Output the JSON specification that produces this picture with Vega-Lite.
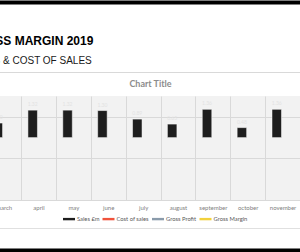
{
  "$schema": "https://vega.github.io/schema/vega-lite/v6.json",
  "width": 300,
  "height": 104,
  "autosize": {"type": "none"},
  "padding": {"left": 0, "top": 96, "right": 0, "bottom": 52},
  "background": "#ffffff",
  "title": {
    "text": "GROSS MARGIN 2019",
    "subtitle": "SALES & COST OF SALES",
    "anchor": "start",
    "frame": "group",
    "dx": -32,
    "offset": -65,
    "font": "Liberation Sans",
    "fontSize": 12,
    "fontWeight": "bold",
    "color": "#000000",
    "subtitleFont": "Liberation Sans",
    "subtitleFontSize": 10,
    "subtitleColor": "#1a1a1a",
    "subtitlePadding": 8
  },
  "config": {
    "view": {"fill": "#f2f2f2", "stroke": null},
    "font": "Lato"
  },
  "data": {
    "values": [
      {"month": "march", "series": "Sales £m", "value": 0.70},
      {"month": "april", "series": "Sales £m", "value": 1.32},
      {"month": "may", "series": "Sales £m", "value": 1.32},
      {"month": "june", "series": "Sales £m", "value": 1.30},
      {"month": "july", "series": "Sales £m", "value": 0.89},
      {"month": "august", "series": "Sales £m", "value": 0.65},
      {"month": "september", "series": "Sales £m", "value": 1.36},
      {"month": "october", "series": "Sales £m", "value": 0.48},
      {"month": "november", "series": "Sales £m", "value": 1.36}
    ]
  },
  "resolve": {"axis": {"x": "independent"}},
  "layer": [
    {
      "mark": {"type": "bar", "width": 9.5, "xOffset": -5.8, "stroke": "#ffffff", "strokeWidth": 0.5, "clip": true},
      "encoding": {
        "x": {
          "field": "month", "type": "nominal", "sort": null,
          "scale": {"domain": ["march","april","may","june","july","august","september","october","november"], "range": [-13.83, 300], "paddingInner": 0, "paddingOuter": 0},
          "axis": {"orient": "bottom", "title": null, "grid": true, "tickBand": "extent", "gridColor": "#d9d9d9", "gridWidth": 1, "ticks": false, "tickSize": 0, "domain": false, "labelFontSize": 6, "labelColor": "#808080", "labelPadding": 4, "labelAngle": 0, "labelOverlap": false, "labelBound": false, "labelFlush": false}
        },
        "y": {
          "field": "value", "type": "quantitative",
          "scale": {"domain": [-3, 2], "nice": false},
          "axis": {"values": [-3,-2,-1,0,1,2], "grid": true, "gridColor": "#d9d9d9", "labels": false, "ticks": false, "domain": false, "title": null}
        },
        "color": {
          "field": "series", "type": "nominal",
          "scale": {"domain": ["Sales £m", "Cost of sales", "Gross Profit", "Gross Margin"], "range": ["#1e1e1e", "#f0533c", "#8a9bab", "#f2d13d"]},
          "legend": {"orient": "none", "legendX": 63, "legendY": 117, "direction": "horizontal", "title": null, "symbolType": "M-1,-0.2H1V0.2H-1Z", "symbolSize": 144, "symbolStrokeWidth": 0, "symbolOpacity": 1, "labelFontSize": 5.8, "labelColor": "#595959", "labelFont": "Lato", "columnPadding": 2.5, "labelOffset": 2, "padding": 0}
        }
      }
    },
    {
      "mark": {"type": "text", "xOffset": -5.8, "dy": -3, "baseline": "bottom", "fontSize": 5, "color": "#e2e2e2", "clip": true},
      "encoding": {
        "x": {"field": "month", "type": "nominal", "sort": null,
          "axis": {"orient": "top", "title": "Chart Title", "titleFontSize": 9, "titleColor": "#8c8c8c", "titleFontWeight": "bold", "titleFont": "Lato", "titlePadding": 8, "titleX": 150, "titleAlign": "center", "labels": false, "ticks": false, "domain": false, "grid": false}},
        "y": {"field": "value", "type": "quantitative"},
        "text": {"field": "value", "type": "quantitative", "format": ".2f"}
      }
    },
    {
      "mark": {"type": "point", "opacity": 0},
      "encoding": {
        "x": {"field": "month", "type": "nominal", "sort": null,
          "axis": {"orient": "top", "offset": 24, "title": null, "labels": false, "ticks": false, "grid": false, "domain": true, "domainColor": "#d9d9d9", "domainWidth": 1}}
      }
    },
    {
      "mark": {"type": "point", "opacity": 0},
      "encoding": {
        "x": {"field": "month", "type": "nominal", "sort": null,
          "axis": {"orient": "bottom", "offset": 28, "title": null, "labels": false, "ticks": false, "grid": false, "domain": true, "domainColor": "#e0e0e0", "domainWidth": 1}}
      }
    },
    {
      "mark": {"type": "point", "opacity": 0},
      "encoding": {
        "x": {"field": "month", "type": "nominal", "sort": null,
          "axis": {"orient": "top", "offset": 94, "title": null, "labels": false, "ticks": false, "grid": false, "domain": true, "domainColor": "#000000", "domainWidth": 4}}
      }
    },
    {
      "mark": {"type": "point", "opacity": 0},
      "encoding": {
        "x": {"field": "month", "type": "nominal", "sort": null,
          "axis": {"orient": "bottom", "offset": 50, "title": null, "labels": false, "ticks": false, "grid": false, "domain": true, "domainColor": "#000000", "domainWidth": 4}}
      }
    }
  ]
}
